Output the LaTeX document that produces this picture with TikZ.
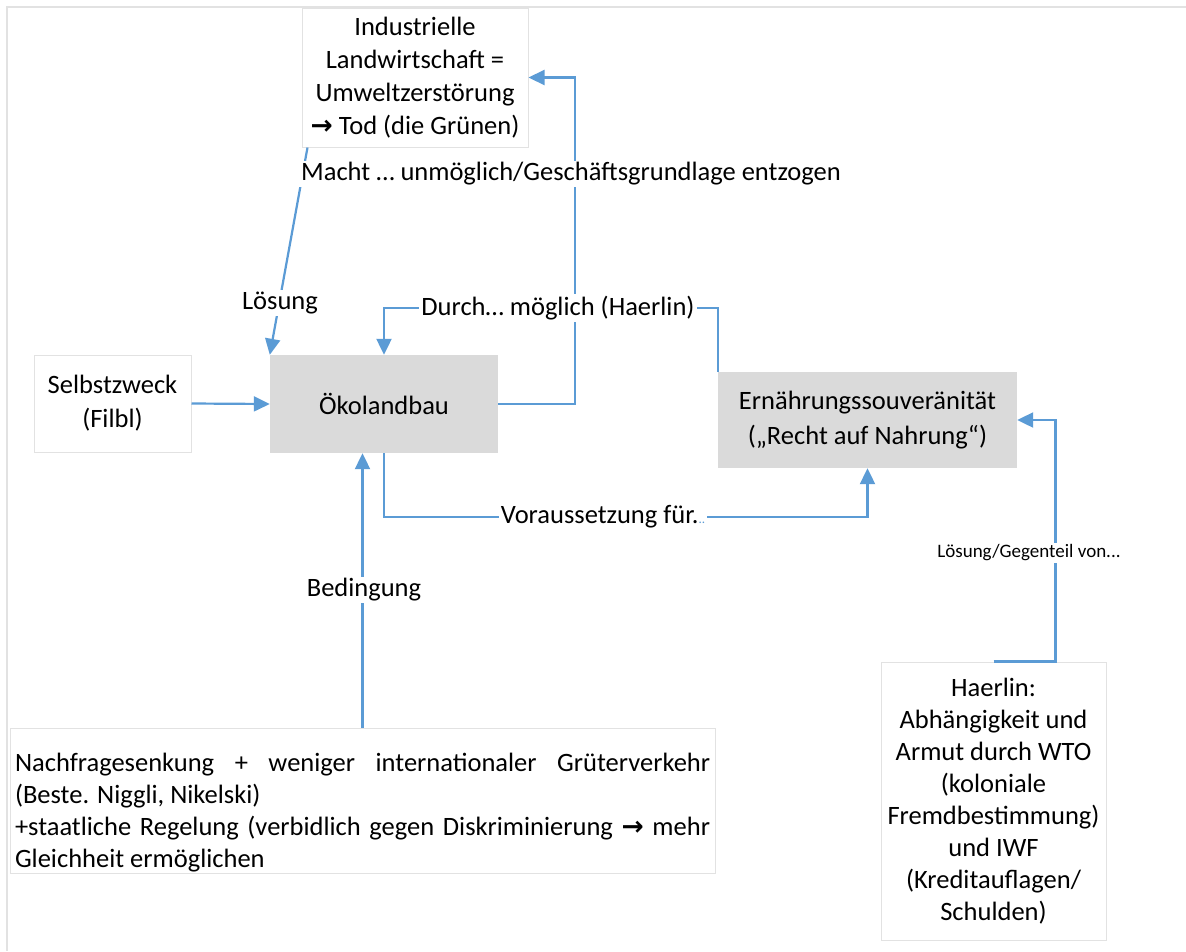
\documentclass[tikz,border=0pt]{standalone}
\usepackage{fontspec}
\setmainfont{Carlito}
\newfontfamily\arrowfont{DejaVu Sans}
\usetikzlibrary{arrows.meta,calc}
\definecolor{lineblue}{HTML}{5B9BD5}
\definecolor{boxgray}{HTML}{DADADA}
\definecolor{edgegray}{HTML}{E2E2E2}
\newcommand{\rarrow}{{\arrowfont\bfseries\char"2192}}

\begin{document}
\begin{tikzpicture}[x=1pt,y=-1pt,font=\fontsize{26.5}{33}\selectfont,
    gray node/.style={rectangle,fill=boxgray,inner sep=0pt,align=center},
    white node/.style={rectangle,draw=edgegray,line width=1pt,fill=white,inner sep=0pt,align=center},
    conn/.style={draw=lineblue,line width=2.2pt,-{Triangle[length=16pt,width=15pt]}},
    lbl/.style={fill=white,inner sep=2pt}]
        \useasboundingbox (0,0) rectangle (1186,951);
        \draw[edgegray,line width=1.5pt] (7,951) -- (7,7) -- (1186,7);

        % boxes
        \node[white node,minimum width=226pt,minimum height=139pt] (ind) at (415,77.5)
            {Industrielle\\Landwirtschaft =\\Umweltzerstörung\\\rarrow{} Tod (die Grünen)};
        \node[gray node,minimum width=228pt,minimum height=98pt] (oeko) at (384,404) {Ökolandbau};
        \node[white node,minimum width=157pt,minimum height=97pt,font=\fontsize{26.5}{34}\selectfont] (selbst) at (112.5,403.5)
            {Selbstzweck\\(Filbl)};
        \node[gray node,minimum width=299pt,minimum height=96pt,font=\fontsize{26.5}{35}\selectfont] (ern) at (867.5,420)
            {Ernährungssouveränität\\(„Recht auf Nahrung“)};
        \node[white node,minimum width=225pt,minimum height=278pt,font=\fontsize{26.5}{32}\selectfont] (haer) at (993.5,801)
            {Haerlin:\\Abhängigkeit und\\Armut durch WTO\\(koloniale\\Fremdbestimmung)\\und IWF\\(Kreditauflagen/\\Schulden)};
        \node[white node,minimum width=705pt,minimum height=145pt,text width=695pt,align=justify,font=\fontsize{26.5}{32}\selectfont] (nach) at (362.5,800.5)
            {\rule{0pt}{43pt}Nachfragesenkung + weniger internationaler Grüterverkehr\linebreak
            (Beste. Niggli, Nikelski)\\
            +staatliche Regelung (verbidlich gegen Diskriminierung \rarrow{} mehr\linebreak
            Gleichheit ermöglichen};

        % connectors
        \path[conn] (oeko.east) -- ++(77,0) |- (ind.east);
        \path[conn] ($(ind.south west)+(6,0)$) -- (oeko.north west);
        \path[conn] (selbst.east) -- (oeko.west);
        \path[conn] (ern.north west) -- ++(0,-64) -| (oeko.north);
        \path[conn] (oeko.south) -- ++(0,64) -| (ern.south);
        \path[conn] (nach.north) -- (nach.north |- oeko.south);
        \path[conn] (haer.north) -- ++(62,0) |- (ern.east);

        % labels
        \node[lbl] (macht) at (571,174) {Macht … unmöglich/Geschäftsgrundlage entzogen};
        \node[lbl] (loes1) at (280,303) {Lösung};
        \node[lbl] (durch) at (558,308) {Durch… möglich (Haerlin)};
        \node[lbl] (vor) at (603,517) {Voraussetzung für.{\color{lineblue}\fontsize{13}{13}\selectfont..}};
        \node[lbl] (bed) at (364,590) {Bedingung};
        \node[lbl,font=\fontsize{19}{22}\selectfont] (loes2) at (1029,553) {Lösung/Gegenteil von...};
\end{tikzpicture}
\end{document}
